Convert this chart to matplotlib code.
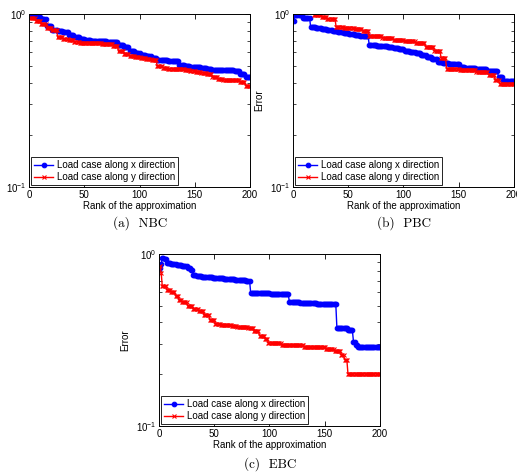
import numpy as np
import matplotlib
matplotlib.use('Agg')
import matplotlib.pyplot as plt
from matplotlib.ticker import LogLocator, NullFormatter

plt.rcParams['font.family'] = ['Liberation Sans', 'DejaVu Sans']
plt.rcParams['font.size'] = 7
plt.rcParams['mathtext.fontset'] = 'custom'
plt.rcParams['mathtext.rm'] = 'Liberation Sans'

# rank of the approximation: 1..200
ranks = np.arange(1, 201)

# (a) NBC, error read every 5 ranks
nbc_x = [0.985, 0.965, 0.935, 0.85, 0.81, 0.795, 0.785, 0.755, 0.733, 0.72,
         0.705, 0.698, 0.695, 0.695, 0.693, 0.685, 0.665, 0.645, 0.615, 0.592,
         0.582, 0.572, 0.555, 0.546, 0.54, 0.537, 0.533, 0.508, 0.5, 0.496,
         0.491, 0.487, 0.48, 0.476, 0.474, 0.474, 0.473, 0.468, 0.452, 0.435]
nbc_y = [0.95, 0.915, 0.875, 0.835, 0.805, 0.733, 0.72, 0.705, 0.693, 0.683,
         0.68, 0.678, 0.676, 0.674, 0.672, 0.655, 0.608, 0.59, 0.572, 0.563,
         0.557, 0.55, 0.542, 0.5, 0.49, 0.483, 0.48, 0.478, 0.477, 0.47,
         0.463, 0.458, 0.448, 0.43, 0.42, 0.418, 0.416, 0.413, 0.406, 0.385]

# (b) PBC, step curves: number of ranks at each level, and the level
pbc_x_len = [1, 7, 7, 5, 5, 5, 5, 5, 5, 5, 5, 5, 5, 3,
             7, 5, 5, 5, 5, 5, 5, 5, 5, 5, 5, 5, 5, 5,
             10, 5, 10, 10, 10, 4, 11]
pbc_x_val = [0.915, 0.99, 0.955, 0.84, 0.83, 0.82, 0.81, 0.795, 0.785, 0.78, 0.77, 0.76, 0.75, 0.745,
             0.66, 0.655, 0.65, 0.645, 0.638, 0.63, 0.615, 0.605, 0.595, 0.58, 0.565, 0.55, 0.53, 0.52,
             0.515, 0.495, 0.487, 0.478, 0.467, 0.43, 0.408]
pbc_y_len = [9, 9, 7, 5, 8, 7, 10, 7, 6, 12, 10, 10, 10, 9, 8, 6, 5, 12, 15, 11, 6, 4, 14]
pbc_y_val = [1.15, 1.06, 0.99, 0.96, 0.94, 0.845, 0.835, 0.82, 0.80, 0.745, 0.73, 0.71,
             0.695, 0.68, 0.645, 0.61, 0.56, 0.482, 0.472, 0.46, 0.445, 0.415, 0.395]

# (c) EBC
ebc_x_len = [1, 1, 2, 2, 4, 5, 5, 5, 3, 2, 3, 5, 5, 5, 5, 5, 5, 5, 5, 5, 4,
             8, 10, 17, 10, 15, 18, 5, 5, 5, 2, 2, 21]
ebc_x_val = [0.83, 0.88, 0.95, 0.93, 0.89, 0.875, 0.865, 0.85, 0.835, 0.81, 0.76,
             0.742, 0.738, 0.735, 0.73, 0.725, 0.72, 0.715, 0.71, 0.705, 0.70,
             0.593, 0.59, 0.585, 0.525, 0.52, 0.513, 0.372, 0.37, 0.36, 0.31, 0.295, 0.288]
ebc_y_len = [1, 1, 4, 4, 4, 3, 3, 5, 5, 5, 5, 5, 5, 5, 5, 5, 5, 5, 5, 5, 5, 5, 3,
             12, 20, 20, 8, 6, 3, 3, 30]
ebc_y_val = [0.85, 0.78, 0.648, 0.62, 0.6, 0.57, 0.54, 0.525, 0.498, 0.48, 0.465, 0.44,
             0.415, 0.392, 0.388, 0.385, 0.382, 0.378, 0.375, 0.37, 0.355, 0.335, 0.322,
             0.304, 0.295, 0.288, 0.28, 0.272, 0.26, 0.243, 0.202]

panels = [
    ([0.0561, 0.6071, 0.4275, 0.3634], np.repeat(nbc_x, 5), np.repeat(nbc_y, 5), '(a)  NBC', (0.271, 0.531)),
    ([0.5667, 0.6071, 0.4275, 0.3634], np.repeat(pbc_x_val, pbc_x_len), np.repeat(pbc_y_val, pbc_y_len), '(b)  PBC', (0.782, 0.531)),
    ([0.3075, 0.1050, 0.4275, 0.3613], np.repeat(ebc_x_val, ebc_x_len), np.repeat(ebc_y_val, ebc_y_len), '(c)  EBC', (0.522, 0.024)),
]

fig = plt.figure(figsize=(5.17, 4.76), dpi=100)

for rect, ex, ey, caption, cpos in panels:
    ax = fig.add_axes(rect)
    ax.semilogy(ranks, ex, '-o', color='blue', lw=1.0, ms=3.3, mew=0.8,
                mfc='blue', label='Load case along x direction')
    ax.semilogy(ranks, ey, '-x', color='red', lw=1.0, ms=2.3, mew=0.8,
                label='Load case along y direction')
    ax.set_xlim(0, 200)
    ax.set_ylim(0.1, 1.0)
    ax.set_xticks([0, 50, 100, 150, 200])
    ax.yaxis.set_major_locator(LogLocator(base=10, numticks=5))
    ax.yaxis.set_minor_locator(LogLocator(base=10, subs=np.arange(2, 10), numticks=10))
    ax.yaxis.set_minor_formatter(NullFormatter())
    ax.tick_params(which='both', direction='in', top=True, right=True, labelsize=7, pad=2)
    ax.tick_params(which='major', length=3.5, width=0.6)
    ax.tick_params(which='minor', length=2, width=0.5)
    for s in ax.spines.values():
        s.set_linewidth(0.7)
    ax.set_xlabel('Rank of the approximation', fontsize=7, labelpad=1)
    ax.set_ylabel('Error', fontsize=7, labelpad=4)
    leg = ax.legend(loc='lower left', fontsize=7, fancybox=False, framealpha=1,
                    edgecolor='black', borderaxespad=0.2, handlelength=2.0,
                    borderpad=0.3, labelspacing=0.2, handletextpad=0.4)
    leg.get_frame().set_linewidth(0.6)
    fig.text(cpos[0], cpos[1], caption, ha='center', va='center',
             fontfamily='cmr10', fontsize=9.5)

fig.savefig('out.png', dpi=100)
